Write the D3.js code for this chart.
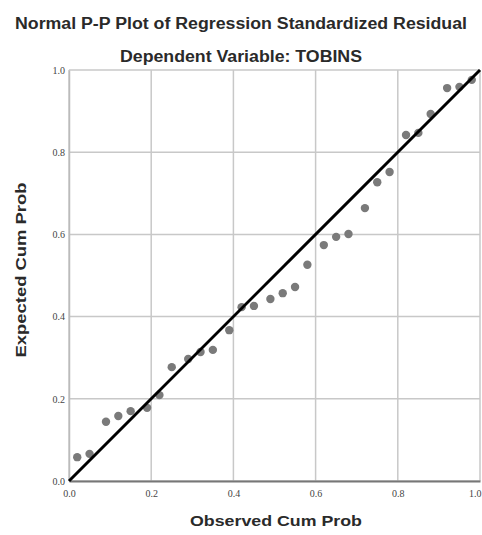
<!DOCTYPE html>
<html>
<head>
<meta charset="utf-8">
<script src="https://cdn.jsdelivr.net/npm/d3@7"></script>
<style>
  html, body { margin: 0; padding: 0; background: #fff; }
  svg { display: block; font-family: "Liberation Sans", Arial, sans-serif; }
</style>
</head>
<body>
<svg id="chart" width="482" height="535"></svg>
<script>
// ---- Data ----
const title = "Normal P-P Plot of Regression Standardized Residual";
const subtitle = "Dependent Variable: TOBINS";
const xLabel = "Observed Cum Prob";
const yLabel = "Expected Cum Prob";
const tickValues = [0, 0.2, 0.4, 0.6, 0.8, 1.0];
const tickLabels = ["0.0", "0.2", "0.4", "0.6", "0.8", "1.0"];

const observedCumProb = [0.02, 0.05, 0.09, 0.12, 0.15, 0.19, 0.22, 0.25, 0.29, 0.32,
                         0.35, 0.39, 0.42, 0.45, 0.49, 0.52, 0.55, 0.58, 0.62, 0.65,
                         0.68, 0.72, 0.75, 0.78, 0.82, 0.85, 0.88, 0.92, 0.95, 0.98];
const expectedCumProb = [0.058, 0.066, 0.144, 0.158, 0.170, 0.178, 0.209, 0.277, 0.297, 0.314,
                         0.319, 0.367, 0.423, 0.426, 0.443, 0.457, 0.472, 0.526, 0.574, 0.594,
                         0.601, 0.664, 0.727, 0.752, 0.842, 0.847, 0.893, 0.956, 0.959, 0.976];
const refLine = [[0, 0], [1, 1]];

// ---- Layout ----
const svg = d3.select("#chart");
const plot = { left: 69, top: 70, right: 480, bottom: 481 };

const x = d3.scaleLinear().domain([0, 1]).range([plot.left, plot.right]);
const y = d3.scaleLinear().domain([0, 1]).range([plot.bottom, plot.top]);

// Titles
svg.append("text")
  .attr("x", 241).attr("y", 29)
  .attr("text-anchor", "middle")
  .attr("font-size", 16).attr("font-weight", "bold").attr("fill", "#2a2a2a")
  .attr("textLength", 452).attr("lengthAdjust", "spacingAndGlyphs")
  .text(title);
svg.append("text")
  .attr("x", 241).attr("y", 62)
  .attr("text-anchor", "middle")
  .attr("font-size", 16).attr("font-weight", "bold").attr("fill", "#2a2a2a")
  .attr("textLength", 242).attr("lengthAdjust", "spacingAndGlyphs")
  .text(subtitle);

// Gridlines
const grid = svg.append("g");
grid.selectAll("line.vx").data(tickValues).join("line")
  .attr("x1", d => x(d)).attr("x2", d => x(d))
  .attr("y1", plot.top).attr("y2", plot.bottom)
  .attr("stroke", "#c8c8c8").attr("stroke-width", 1.5);
grid.selectAll("line.hy").data(tickValues).join("line")
  .attr("y1", d => y(d)).attr("y2", d => y(d))
  .attr("x1", plot.left).attr("x2", plot.right)
  .attr("stroke", "#c8c8c8").attr("stroke-width", 1.5);

// Axes
const xAxis = d3.axisBottom(x).tickValues(tickValues)
  .tickFormat((d, i) => tickLabels[i]).tickSize(0).tickPadding(9);
const yAxis = d3.axisLeft(y).tickValues(tickValues)
  .tickFormat((d, i) => tickLabels[i]).tickSize(0).tickPadding(4);

const gx = svg.append("g").attr("transform", `translate(0,${plot.bottom})`).call(xAxis);
gx.select(".domain").attr("stroke", "#777").attr("stroke-width", 2);
gx.selectAll("text").attr("font-size", 10).attr("fill", "#444")
  .attr("font-family", "'Liberation Serif', serif");
// keep the last label inside the window
gx.selectAll(".tick").filter(d => d === 1).select("text")
  .attr("text-anchor", "end").attr("dx", "0.1em");

const gy = svg.append("g").attr("transform", `translate(${plot.left},0)`).call(yAxis);
gy.select(".domain").attr("stroke", "#bbb").attr("stroke-width", 1.5);
gy.selectAll("text").attr("font-size", 10).attr("fill", "#444")
  .attr("font-family", "'Liberation Serif', serif");

// Axis titles
svg.append("text")
  .attr("x", 276).attr("y", 526)
  .attr("text-anchor", "middle")
  .attr("font-size", 15).attr("font-weight", "bold").attr("fill", "#2a2a2a")
  .attr("textLength", 172).attr("lengthAdjust", "spacingAndGlyphs")
  .text(xLabel);
svg.append("text")
  .attr("transform", "translate(26,270) rotate(-90)")
  .attr("text-anchor", "middle")
  .attr("font-size", 15).attr("font-weight", "bold").attr("fill", "#2a2a2a")
  .attr("textLength", 175).attr("lengthAdjust", "spacingAndGlyphs")
  .text(yLabel);

// Points
const pts = observedCumProb.map((v, i) => ({ o: v, e: expectedCumProb[i] }));
svg.append("g").selectAll("circle").data(pts).join("circle")
  .attr("cx", d => x(d.o)).attr("cy", d => y(d.e))
  .attr("r", 4.2).attr("fill", "#7a7a7a");

// Reference diagonal
svg.append("path")
  .datum(refLine)
  .attr("d", d3.line().x(d => x(d[0])).y(d => y(d[1])))
  .attr("stroke", "#000").attr("stroke-width", 3).attr("fill", "none");
</script>
</body>
</html>
